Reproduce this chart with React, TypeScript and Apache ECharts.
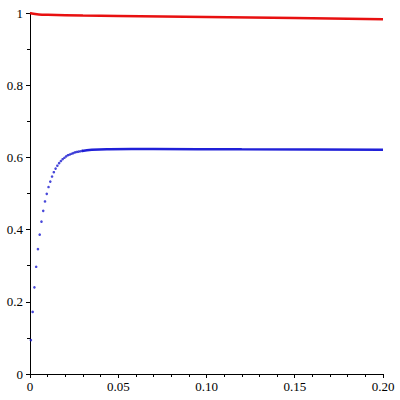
import React, { useEffect, useRef } from "react";
import * as echarts from "echarts";

// Blue dots (rising part), x in steps of 0.001
const blueDotX = [
  0.0005, 0.0015, 0.0025, 0.0035, 0.0045, 0.0055, 0.0065, 0.0075, 0.0085, 0.0095,
  0.0105, 0.0115, 0.0125, 0.0135, 0.0145, 0.0155, 0.0165, 0.0175, 0.0185, 0.0195,
  0.0205, 0.0215, 0.0225, 0.0235, 0.0245, 0.0255, 0.0265, 0.0275, 0.0285, 0.0295,
];
const blueDotY = [
  0.094, 0.172, 0.24, 0.297, 0.346, 0.386, 0.422, 0.452, 0.478, 0.499,
  0.518, 0.533, 0.547, 0.559, 0.569, 0.577, 0.584, 0.59, 0.595, 0.599,
  0.603, 0.606, 0.608, 0.61, 0.612, 0.614, 0.615, 0.616, 0.617, 0.618,
];
// Blue plateau (dense dots that read as a line)
const bluePlateauX = [0.0295, 0.035, 0.045, 0.07, 0.12, 0.2];
const bluePlateauY = [0.618, 0.621, 0.6225, 0.623, 0.6225, 0.6215];
// Red curve
const redX = [0, 0.002, 0.005, 0.01, 0.03, 0.05, 0.1, 0.15, 0.2];
const redY = [1.0, 0.998, 0.996, 0.995, 0.993, 0.992, 0.989, 0.986, 0.983];

const FONT = "Liberation Serif";

export default function App() {
  const ref = useRef<HTMLDivElement>(null);
  useEffect(() => {
    if (!ref.current) return;
    const chart = echarts.init(ref.current, undefined, { renderer: "svg" });
    const zip = (xs: number[], ys: number[]) => xs.map((x, i) => [x, ys[i]]);
    chart.setOption({
      animation: false,
      backgroundColor: "#ffffff",
      grid: { left: 30, right: 17, top: 13, bottom: 26, containLabel: false },
      xAxis: {
        type: "value",
        min: 0,
        max: 0.2,
        interval: 0.05,
        splitLine: { show: false },
        axisLine: { onZero: false, lineStyle: { color: "#000", width: 1 } },
        axisTick: { show: true, length: 4, lineStyle: { color: "#000" } },
        minorTick: { show: true, splitNumber: 5, length: 3, lineStyle: { color: "#000" } },
        axisLabel: {
          color: "#000",
          fontFamily: FONT,
          fontSize: 13,
          margin: 6,
          formatter: (v: number) => (v === 0 ? "0" : v.toFixed(2)),
        },
      },
      yAxis: {
        type: "value",
        min: 0,
        max: 1,
        interval: 0.2,
        splitLine: { show: false },
        axisLine: { show: true, onZero: false, lineStyle: { color: "#000", width: 1 } },
        axisTick: { show: true, length: 4, lineStyle: { color: "#000" } },
        minorTick: { show: true, splitNumber: 2, length: 3, lineStyle: { color: "#000" } },
        axisLabel: {
          color: "#000",
          fontFamily: FONT,
          fontSize: 13,
          margin: 7,
          formatter: (v: number) => (v === 0 ? "0" : v === 1 ? "1" : String(Math.round(v * 10) / 10)),
        },
      },
      series: [
        {
          type: "line",
          data: zip(redX, redY),
          showSymbol: false,
          smooth: true,
          lineStyle: { color: "#e81010", width: 2.5 },
          z: 3,
        },
        {
          type: "scatter",
          data: zip(blueDotX, blueDotY),
          symbol: "circle",
          symbolSize: 2.6,
          itemStyle: { color: "#1a1acf" },
          z: 4,
        },
        {
          type: "line",
          data: zip(bluePlateauX, bluePlateauY),
          showSymbol: false,
          smooth: true,
          lineStyle: { color: "#2020d8", width: 2.5 },
          z: 3,
        },
      ],
    });
    return () => chart.dispose();
  }, []);
  return (
    <div
      ref={ref}
      style={{ position: "fixed", left: 0, top: 0, width: 400, height: 400, background: "#fff" }}
    />
  );
}
